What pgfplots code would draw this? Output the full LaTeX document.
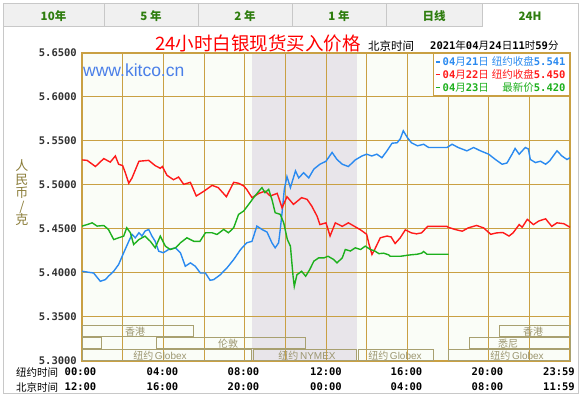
\documentclass[border=0pt]{standalone}
\usepackage{fontspec}
\setmainfont{Liberation Sans}
\setmonofont{DejaVu Sans Mono}
\newfontfamily\cjk{Noto Sans CJK SC}
\usepackage{pgfplots}
\pgfplotsset{compat=1.18}
\definecolor{gold}{HTML}{C9A043}
\definecolor{tabfill}{HTML}{F0F0F0}
\definecolor{tabline}{HTML}{C8C8C8}
\definecolor{tabtext}{HTML}{2E7D0E}
\definecolor{plotbg}{HTML}{FAFDF7}
\definecolor{shadecol}{HTML}{E8E5EA}
\definecolor{cblue}{HTML}{2A8AF0}
\definecolor{cred}{HTML}{FF1A1A}
\definecolor{cgreen}{HTML}{1DB01D}
\definecolor{sess}{HTML}{A8A070}
\definecolor{sesstext}{HTML}{9C9670}
\definecolor{ylab}{HTML}{8B7D3A}
\definecolor{kitco}{HTML}{4A7FE8}
\newcommand\mn[1]{{\ttfamily\bfseries #1}}
\begin{document}
\begin{tikzpicture}
\path[use as bounding box] (0,0) rectangle (588pt,398pt);
\begin{scope}[x=1pt,y=-1pt,shift={(0pt,398pt)}]
  % frame and tabs
  \fill[tabfill] (3,4) rectangle (482,27);
  \draw[tabline, line width=1pt] (3,4) rectangle (104,27);
  \draw[tabline, line width=1pt] (104,4) rectangle (198,27);
  \draw[tabline, line width=1pt] (198,4) rectangle (292,27);
  \draw[tabline, line width=1pt] (292,4) rectangle (386,27);
  \draw[tabline, line width=1pt] (386,4) rectangle (482,27);
  \draw[tabline, line width=1pt] (482,27) -- (482,4) -- (578,4) -- (578,394) -- (3,394) -- (3,27);
  \foreach \xx/\tt in {53.5/10年, 151/5 年, 245/2 年, 339/1 年, 434/日线, 530/24H}
    \node[font=\cjk\bfseries\fontsize{11.5}{12}\selectfont, text=tabtext] at (\xx,16) {\tt};
  % chart background
  \fill[plotbg] (82,53) rectangle (570,361);
  \fill[shadecol] (252,53) rectangle (357,361);
  % title
  \node[font=\cjk\fontsize{18.5}{20}\selectfont, text=red] at (258,44) {24小时白银现货买入价格};
  \node[font=\cjk\fontsize{11.5}{12}\selectfont, anchor=west, inner sep=0pt] at (368,46) {北京时间};
  \node[font=\fontsize{10.5}{12}\selectfont, anchor=west, inner sep=0pt] at (430,46) {\mn{2021}{\cjk 年}\mn{04}{\cjk 月}\mn{24}{\cjk 日}\mn{11}{\cjk 时}\mn{59}{\cjk 分}};
  % y label
  \node[font=\cjk\fontsize{13}{13.5}\selectfont, text=ylab, align=center] at (22,193) {人\\民\\币\\/\\克};
  % bottom rows
  \node[font=\cjk\fontsize{10.5}{12}\selectfont, anchor=west, inner sep=0pt] at (16,372) {纽约时间};
  \node[font=\cjk\fontsize{10.5}{12}\selectfont, anchor=west, inner sep=0pt] at (16,387) {北京时间};
\end{scope}
\begin{axis}[
  at={(82pt,37pt)}, anchor=south west,
  scale only axis, width=488pt, height=308pt,
  xmin=0, xmax=24, ymin=5.30, ymax=5.65,
  xtick={0,2,...,24}, xticklabels={,,,,,,,,,,,,,},
  ytick={5.30,5.35,5.40,5.45,5.50,5.55,5.60,5.65},
  yticklabels={5.3000,5.3500,5.4000,5.4500,5.5000,5.5500,5.6000,5.6500},
  yticklabel style={font=\ttfamily\bfseries\fontsize{10.5}{12}\selectfont, text=black!80, inner sep=0pt, xshift=-5pt},
  major tick length=0pt,
  grid=major,
  major grid style={draw=gold, line width=1pt},
  axis line style={draw=gold, line width=1.2pt},
  legend style={at={(1,1)}, anchor=north east, draw=gold, line width=1pt, fill=white,
    font=\fontsize{10.5}{11}\selectfont, inner xsep=2pt, inner ysep=1pt, row sep=-1.5pt,
    cells={anchor=west}},
  legend image code/.code={\draw[#1, line width=1.6pt] (0pt,0pt) -- (4pt,0pt);},
]
\addplot[cblue, line width=1.4pt] coordinates {
(0,5.402)(0.33,5.4008)(0.57,5.400)(0.9,5.3906)(1.15,5.3925)(1.3,5.3963)(1.56,5.402)(1.8,5.4096)(2.05,5.423)(2.3,5.436)(2.46,5.4438)(2.62,5.440)(2.8,5.4457)(2.95,5.442)(3.1,5.4476)(3.28,5.4495)(3.44,5.4419)(3.6,5.436)(3.77,5.4248)(4.0,5.423)(4.26,5.4267)(4.6,5.4286)(4.84,5.423)(5.08,5.4077)(5.33,5.4115)(5.57,5.4077)(5.82,5.400)(6.07,5.400)(6.3,5.3917)(6.48,5.3925)(6.8,5.398)(7.13,5.4058)(7.46,5.4153)(7.8,5.4267)(8.1,5.4343)(8.36,5.436)(8.6,5.4533)(8.85,5.4495)(9.1,5.4465)(9.34,5.4343)(9.5,5.4286)(9.67,5.4343)(9.75,5.4495)(9.84,5.4685)(9.95,5.495)(10.08,5.5095)(10.25,5.497)(10.5,5.516)(10.66,5.508)(10.9,5.514)(11.15,5.508)(11.4,5.518)(11.7,5.5236)(12.0,5.527)(12.3,5.537)(12.54,5.529)(12.8,5.5236)(13.1,5.521)(13.44,5.5285)(13.77,5.533)(14.0,5.535)(14.25,5.533)(14.5,5.535)(14.75,5.531)(15.0,5.5388)(15.25,5.5475)(15.5,5.548)(15.66,5.5528)(15.8,5.5616)(16.0,5.554)(16.2,5.548)(16.5,5.5445)(16.8,5.5463)(17.05,5.5426)(17.95,5.5426)(18.2,5.5463)(18.5,5.5426)(18.93,5.5388)(19.26,5.5426)(19.6,5.5388)(20.0,5.535)(20.33,5.529)(20.66,5.5236)(20.9,5.525)(21.15,5.535)(21.3,5.5415)(21.5,5.535)(21.8,5.5426)(21.95,5.541)(22.05,5.529)(22.3,5.5255)(22.55,5.527)(22.8,5.5236)(23.0,5.5274)(23.36,5.5388)(23.6,5.533)(23.85,5.529)(24.0,5.531)
};
\addlegendentry{\textcolor{cblue}{\mn{04}{\cjk 月}\mn{21}{\cjk 日}\ {\cjk 纽约收盘}\mn{5.541}}}
\addplot[cred, line width=1.4pt] coordinates {
(0,5.5285)(0.25,5.528)(0.66,5.521)(1.07,5.530)(1.39,5.526)(1.64,5.533)(1.8,5.5236)(2.0,5.522)(2.13,5.514)(2.3,5.502)(2.46,5.508)(2.8,5.527)(3.28,5.528)(3.6,5.522)(3.85,5.519)(3.95,5.521)(4.18,5.511)(4.5,5.506)(4.75,5.509)(5.0,5.5008)(5.33,5.503)(5.62,5.4875)(6.0,5.493)(6.4,5.4996)(6.7,5.497)(7.1,5.4867)(7.46,5.503)(7.7,5.502)(7.95,5.499)(8.1,5.495)(8.36,5.4856)(8.7,5.4905)(9.0,5.493)(9.26,5.4875)(9.6,5.4905)(9.84,5.474)(10.08,5.4867)(10.4,5.478)(10.8,5.4856)(11.07,5.4837)(11.3,5.476)(11.56,5.4646)(11.7,5.455)(12.0,5.457)(12.2,5.442)(12.46,5.457)(12.8,5.453)(13.1,5.457)(13.4,5.453)(13.7,5.449)(14.0,5.444)(14.1,5.434)(14.26,5.421)(14.4,5.427)(14.67,5.440)(15.0,5.442)(15.2,5.441)(15.4,5.4335)(15.65,5.440)(15.9,5.449)(16.2,5.4456)(16.45,5.4445)(16.7,5.4456)(17.0,5.453)(17.95,5.453)(18.0,5.452)(18.36,5.4494)(18.7,5.4475)(19.0,5.4513)(19.4,5.454)(19.75,5.4513)(20.1,5.444)(20.4,5.4456)(20.7,5.446)(21.0,5.442)(21.2,5.4456)(21.5,5.455)(21.65,5.452)(21.9,5.461)(22.2,5.455)(22.46,5.459)(22.8,5.4616)(23.1,5.453)(23.36,5.457)(23.7,5.456)(24.0,5.452)
};
\addlegendentry{\textcolor{cred}{\mn{04}{\cjk 月}\mn{22}{\cjk 日}\ {\cjk 纽约收盘}\mn{5.450}}}
\addplot[cgreen, line width=1.4pt] coordinates {
(0,5.4533)(0.25,5.455)(0.5,5.457)(0.74,5.4533)(1.07,5.454)(1.3,5.4495)(1.56,5.438)(1.8,5.44)(2.05,5.4419)(2.2,5.4514)(2.38,5.4457)(2.54,5.4324)(2.8,5.438)(3.1,5.4419)(3.36,5.436)(3.6,5.4286)(3.85,5.4419)(4.1,5.4305)(4.34,5.4267)(4.6,5.4286)(4.84,5.4343)(5.16,5.44)(5.5,5.436)(5.8,5.436)(6.07,5.4457)(6.4,5.4457)(6.64,5.4438)(6.97,5.4495)(7.2,5.4457)(7.46,5.4514)(7.7,5.4666)(7.95,5.4704)(8.2,5.478)(8.44,5.4856)(8.7,5.493)(8.85,5.497)(9.0,5.4913)(9.18,5.495)(9.34,5.4837)(9.5,5.4685)(9.75,5.4666)(9.92,5.457)(10.1,5.438)(10.25,5.4305)(10.38,5.3963)(10.44,5.3848)(10.57,5.398)(10.8,5.402)(11.0,5.3963)(11.2,5.4039)(11.4,5.4134)(11.64,5.4172)(11.9,5.4172)(12.1,5.419)(12.38,5.4153)(12.54,5.4115)(12.8,5.4172)(12.95,5.4267)(13.2,5.425)(13.44,5.4286)(13.7,5.4267)(13.93,5.4305)(14.18,5.4267)(14.4,5.425)(14.6,5.422)(14.84,5.4225)(15.08,5.4206)(15.16,5.419)(15.66,5.419)(15.9,5.4198)(16.15,5.4206)(16.48,5.4213)(16.7,5.4225)(16.8,5.4244)(16.97,5.4213)(18.03,5.4213)
};
\addlegendentry{\textcolor{cgreen}{\mn{04}{\cjk 月}\mn{23}{\cjk 日}\ \makebox[4em][r]{\cjk 最新价}\mn{5.420}}}
\end{axis}
\begin{scope}[x=1pt,y=-1pt,shift={(0pt,398pt)}]
  \node[font=\fontsize{17.5}{18}\selectfont, text=kitco, anchor=west, inner sep=0pt] at (83,70) {www.kitco.cn};
  % sessions
  \begin{scope}[draw=sess, line width=1pt]
    \draw (82,326) rectangle (193,337);
    \draw (499,326) rectangle (570,337);
    \draw (82,338) rectangle (101,349);
    \draw (156,338) rectangle (305,349);
    \draw (469,338) rectangle (570,349);
    \draw (82,350) rectangle (251,361);
    \draw (253,350) rectangle (356,361);
    \draw (358,350) rectangle (433,361);
    \draw (448,350) rectangle (570,361);
  \end{scope}
  \begin{scope}[every node/.style={font=\cjk\fontsize{10}{11}\selectfont, text=sesstext, inner sep=0pt}]
    \node at (135,332) {香港};
    \node at (533,332) {香港};
    \node at (228,344) {伦敦};
    \node at (508,344) {悉尼};
    \node at (160,356) {纽约\,{\fontspec{Liberation Sans}Globex}};
    \node at (307,356) {纽约\,{\fontspec{Liberation Sans}NYMEX}};
    \node at (395,356) {纽约\,{\fontspec{Liberation Sans}Globex}};
    \node at (517,356) {纽约\,{\fontspec{Liberation Sans}Globex}};
  \end{scope}
  % time tick labels
  \begin{scope}[every node/.style={font=\ttfamily\bfseries\fontsize{10.5}{12}\selectfont, inner sep=0pt}]
    \foreach \xx/\a/\b in {80.5/00:00/12:00, 162.5/04:00/16:00, 243.5/08:00/20:00, 326/12:00/00:00, 406.5/16:00/04:00, 487.5/20:00/08:00, 559/23:59/11:59}{
      \node at (\xx,372) {\a};
      \node at (\xx,387) {\b};
    }
  \end{scope}
\end{scope}
\end{tikzpicture}
\end{document}
